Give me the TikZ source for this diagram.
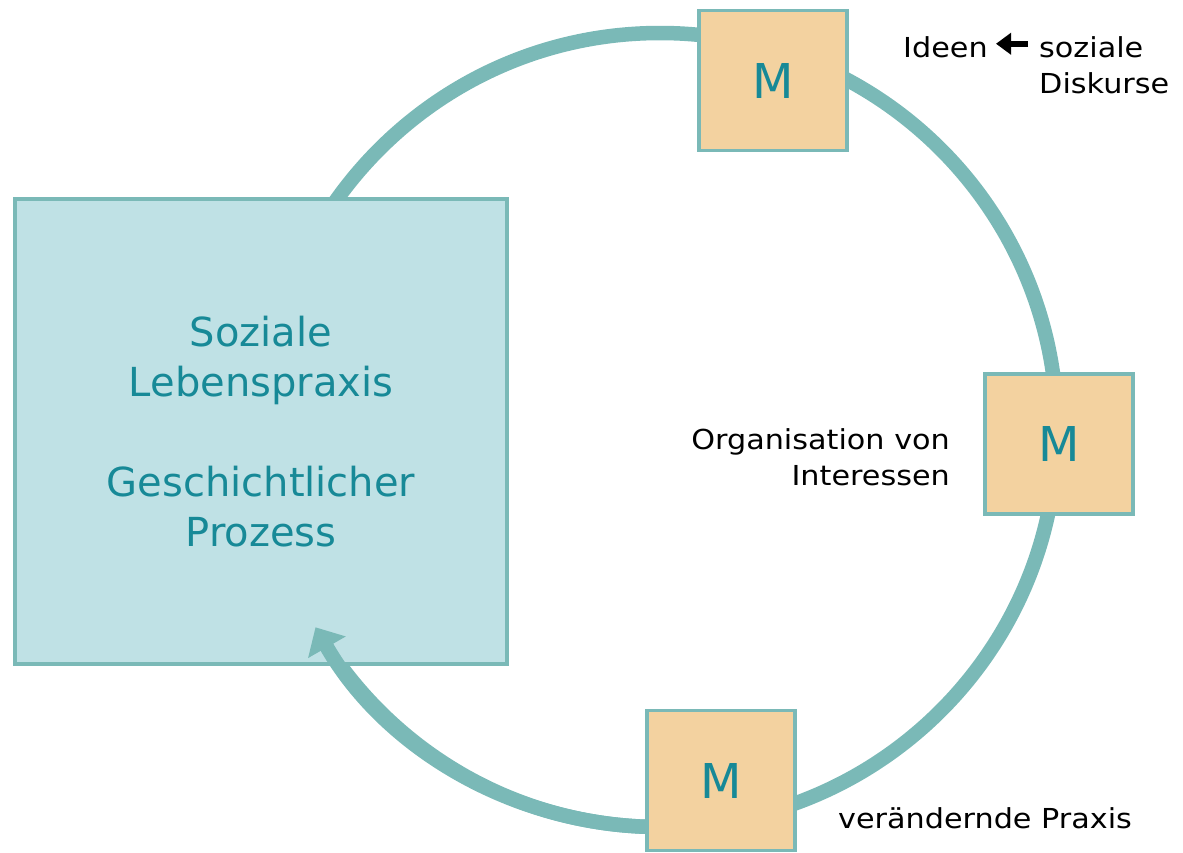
\documentclass[tikz,border=0pt]{standalone}
\usepackage{fontspec}
\setmainfont{DejaVu Sans}
\newfontfamily\widefont{DejaVu Sans}[FakeStretch=1.1]
\usetikzlibrary{arrows.meta,calc}
\definecolor{ringcol}{HTML}{7AB9B7}
\definecolor{boxfill}{HTML}{BFE1E5}
\definecolor{mfill}{HTML}{F3D2A0}
\definecolor{tealtext}{HTML}{178997}
\begin{document}
\begin{tikzpicture}[x=1pt,y=-1pt,
  ringline/.style={draw=ringcol,line width=14.5pt},
  bigbox/.style={draw=ringcol,line width=3.8pt,fill=boxfill,minimum width=492pt,minimum height=465pt,inner sep=0pt,align=center,text=tealtext,font=\fontsize{40}{50}\selectfont},
  mbox/.style={draw=ringcol,line width=3.8pt,fill=mfill,minimum width=148pt,minimum height=140pt,inner sep=0pt,text=tealtext,font=\fontsize{48}{48}\selectfont},
  blabel/.style={inner sep=0pt,text=black,font=\widefont\fontsize{27.5}{36}\selectfont},
  ideaarrow/.style={draw=black,line width=6pt,-{Triangle[width=21pt,length=15pt]}}
]
\useasboundingbox (0,0) rectangle (1183,852);
\coordinate (c) at (660,430);
% ring
\draw[ringline] (c) circle[radius=397];
% big box
\node[bigbox] (praxisbox) at (261,431.5) {Soziale\\Lebenspraxis\\[50pt]Geschichtlicher\\Prozess};
% arrow part of ring
\draw[ringline,-{Triangle[width=42pt,length=23pt]}] ($(c)+(90:397)$) arc[start angle=90,end angle=150.2,radius=397];
% M boxes
\node[mbox] (mtop) at (773,80.5) {M};
\node[mbox] (mright) at (1059,444) {M};
\node[mbox] (mbottom) at (721,780.5) {M};
% labels
\node[blabel,anchor=base west] (ideen) at (903,57) {Ideen};
\node[blabel,anchor=base west] (soziale) at (1039,57) {soziale};
\node[blabel,anchor=base west] (diskurse) at (1039,93) {Diskurse};
\draw[ideaarrow] ([xshift=-11pt,yshift=3pt]soziale.west) -- ([xshift=-43pt,yshift=3pt]soziale.west);
\node[blabel,anchor=base east] (org) at (950,449) {Organisation von};
\node[blabel,anchor=base east] (inter) at (950,485) {Interessen};
\node[blabel,anchor=base west] (vpraxis) at (838,828) {verändernde Praxis};
\end{tikzpicture}
\end{document}
